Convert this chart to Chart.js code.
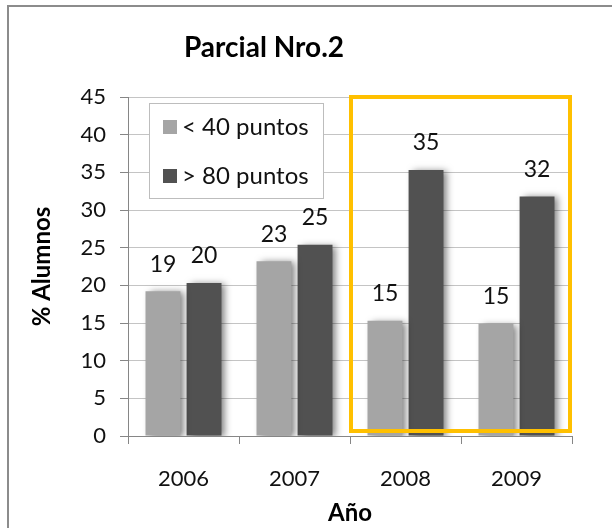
<!DOCTYPE html>
<html>
<head>
<meta charset="utf-8">
<script src="https://cdn.jsdelivr.net/npm/chart.js@4.4.0/dist/chart.umd.min.js"></script>
<style>
  html, body { margin: 0; padding: 0; background: #fff; }
  #wrap { position: relative; width: 612px; height: 528px; }
  #frame { position: absolute; left: 7px; top: 5px; right: -4px; bottom: -4px; border: 2px solid #8c8c8c; pointer-events: none; }
  canvas { position: absolute; left: 0; top: 0; }
</style>
</head>
<body>
<div id="wrap">
  <canvas id="chart" width="612" height="528"></canvas>
  <div id="frame"></div>
</div>
<script>
const years = ['2006', '2007', '2008', '2009'];
const bajo40 = [19.2, 23.2, 15.3, 14.9];
const sobre80 = [20.3, 25.4, 35.3, 31.8];
const yTicks = [0, 5, 10, 15, 20, 25, 30, 35, 40, 45];
const highlighted = ['2008', '2009'];

const fontFam = 'Lato, "Open Sans", sans-serif';

// title drawn by hand, Excel puts it left of center
const titlePlugin = {
  id: 'titlePlugin',
  afterDraw(chart) {
    const ctx = chart.ctx;
    ctx.save();
    ctx.font = 'bold 28px ' + fontFam;
    ctx.fillStyle = '#000';
    ctx.textAlign = 'center';
    ctx.textBaseline = 'middle';
    ctx.fillText('Parcial Nro.2', 264, 48);
    ctx.restore();
  }
};

// soft shadow to the right of bars
const shadowPlugin = {
  id: 'shadowPlugin',
  beforeDatasetsDraw(chart) {
    const ctx = chart.ctx;
    ctx.save();
    ctx.shadowColor = 'rgba(0,0,0,0.5)';
    ctx.shadowBlur = 7;
    ctx.shadowOffsetX = 4;
    ctx.shadowOffsetY = 1;
  },
  afterDatasetsDraw(chart) {
    chart.ctx.restore();
  }
};

const labelsPlugin = {
  id: 'labelsPlugin',
  afterDatasetsDraw(chart) {
    const ctx = chart.ctx;
    ctx.save();
    ctx.font = '23px ' + fontFam;
    ctx.fillStyle = '#111';
    ctx.textAlign = 'center';
    ctx.textBaseline = 'middle';
    chart.data.datasets.forEach((ds, i) => {
      chart.getDatasetMeta(i).data.forEach((bar, j) => {
        ctx.fillText(Math.round(ds.data[j]), bar.x, bar.y - 27);
      });
    });
    ctx.restore();
  }
};

const boxPlugin = {
  id: 'boxPlugin',
  afterDraw(chart) {
    const ctx = chart.ctx;
    const xs = chart.scales.x, ys = chart.scales.y;
    const a = years.indexOf(highlighted[0]);
    const b = years.indexOf(highlighted[highlighted.length - 1]);
    const left = (xs.getPixelForValue(a) + xs.getPixelForValue(a - 1)) / 2 + 1;
    const right = b === years.length - 1 ? chart.chartArea.right - 2 : (xs.getPixelForValue(b) + xs.getPixelForValue(b + 1)) / 2;
    const top = ys.getPixelForValue(45);
    const bottom = ys.getPixelForValue(0) - 5;
    ctx.save();
    ctx.strokeStyle = '#FFC000';
    ctx.lineWidth = 4;
    ctx.strokeRect(left, top, right - left, bottom - top);
    ctx.restore();
  }
};

const legendPlugin = {
  id: 'legendPlugin',
  afterDraw(chart) {
    const ctx = chart.ctx;
    const area = chart.chartArea;
    const x0 = area.left + 21, y0 = area.top + 6;
    ctx.save();
    ctx.fillStyle = '#fff';
    ctx.fillRect(x0, y0, 174, 95);
    ctx.strokeStyle = '#bdbdbd';
    ctx.lineWidth = 1;
    ctx.strokeRect(x0 + 0.5, y0 + 0.5, 174, 95);
    ctx.font = '24px ' + fontFam;
    ctx.textBaseline = 'middle';
    ctx.textAlign = 'left';
    chart.data.datasets.forEach((ds, i) => {
      const cy = y0 + 24 + i * 49;
      ctx.fillStyle = ds.backgroundColor;
      ctx.fillRect(x0 + 14, cy - 7, 14, 14);
      ctx.fillStyle = '#111';
      ctx.fillText(ds.label, x0 + 33, cy);
    });
    ctx.restore();
  }
};

new Chart(document.getElementById('chart'), {
  type: 'bar',
  data: {
    labels: years,
    datasets: [
      { label: '< 40 puntos', data: bajo40, backgroundColor: '#a5a5a5' },
      { label: '> 80 puntos', data: sobre80, backgroundColor: '#515151' }
    ]
  },
  options: {
    responsive: false,
    animation: false,
    categoryPercentage: 0.74,
    barPercentage: 0.85,
    layout: { padding: { left: 0, right: 40, top: 97, bottom: 0 } },
    plugins: {
      legend: { display: false },
      title: { display: false },
      tooltip: { enabled: false }
    },
    scales: {
      x: {
        grid: { offset: true, drawOnChartArea: false, tickLength: 8, tickColor: '#868686' },
        border: { color: '#868686' },
        ticks: { color: '#111', font: { size: 22, family: fontFam }, padding: 22 },
        title: { display: true, text: 'Año', color: '#000', font: { size: 24, weight: 'bold', family: fontFam }, padding: { top: 4, bottom: 0 } },
        afterFit(scale) { scale.height = 92; }
      },
      y: {
        min: 0,
        max: 45,
        afterBuildTicks(scale) { scale.ticks = yTicks.map(v => ({ value: v })); },
        grid: { color: '#c4c4c4', tickLength: 8, tickColor: '#868686' },
        border: { color: '#868686' },
        ticks: { color: '#111', font: { size: 22, family: fontFam }, padding: 14 },
        title: { display: true, text: '% Alumnos', color: '#000', font: { size: 24, weight: 'bold', family: fontFam }, padding: { top: 28, bottom: 0 } },
        afterFit(scale) { scale.width = 128; }
      }
    }
  },
  plugins: [shadowPlugin, labelsPlugin, boxPlugin, legendPlugin, titlePlugin]
});
</script>
</body>
</html>
